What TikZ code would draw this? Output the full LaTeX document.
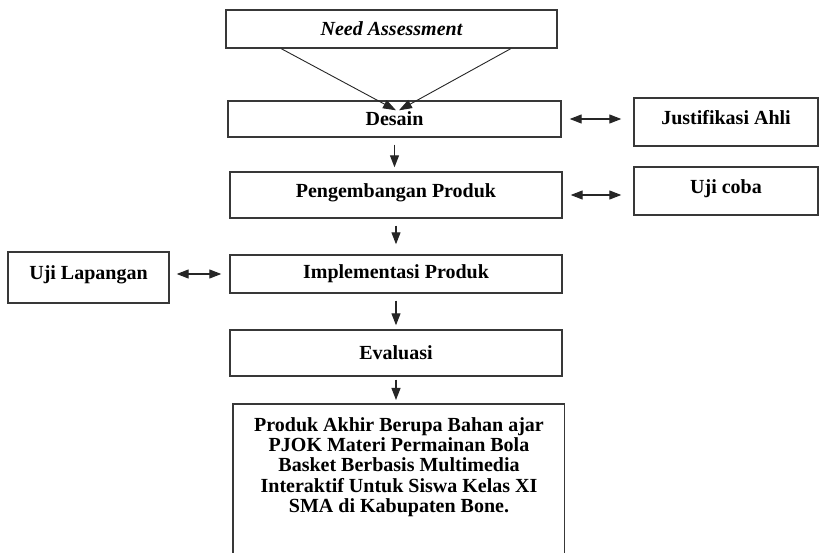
\documentclass[tikz,border=0pt]{standalone}
\usepackage{fontspec}
\setmainfont{Liberation Serif}
\usetikzlibrary{arrows.meta,calc}
\begin{document}
\begin{tikzpicture}[x=1pt,y=-1pt,
  box/.style={draw=black!78,line width=1.4pt,rectangle,inner sep=0pt,
    font=\fontsize{20}{20.5}\selectfont\bfseries},
  arr/.style={line width=1.2pt,draw=black!85,-{Triangle[width=9pt,length=12pt]}},
  darr/.style={line width=1.2pt,draw=black!85,{Triangle[width=9pt,length=12pt]}-{Triangle[width=9pt,length=12pt]}},
  sarr/.style={line width=0.9pt,draw=black!85,-{Triangle[width=9pt,length=13pt]}}]
\useasboundingbox (0,0) rectangle (820,553);
\fill[white] (0,0) rectangle (820,553);

\node[box,minimum width=331,minimum height=38] (need) at (391.5,29) {\itshape Need Assessment};
\node[box,minimum width=333,minimum height=36] (desain) at (394.5,119) {Desain};
\node[box,minimum width=332,minimum height=46,text depth=9pt] (peng) at (396,195) {Pengembangan Produk};
\node[box,minimum width=332,minimum height=38] (impl) at (396,274) {Implementasi Produk};
\node[box,minimum width=332,minimum height=46] (eval) at (396,353) {Evaluasi};
\node[box,minimum width=184,minimum height=48,text depth=9pt] (just) at (726,122) {Justifikasi Ahli};
\node[box,minimum width=184,minimum height=48,text depth=9pt] (uji) at (726,191) {Uji coba};
\node[box,minimum width=161,minimum height=51,text depth=10pt] (lap) at (88.5,277.5) {Uji Lapangan};

% final box (open at the bottom)
\node[rectangle,draw=none,inner sep=0pt,minimum width=331,minimum height=160,anchor=north] (akhir) at (398.5,404) {};
\draw[black!78,line width=1.4pt] (akhir.south west) -- (akhir.north west) -- (akhir.north east) -- (akhir.south east);
\node[align=center,inner sep=0pt,font=\fontsize{20}{20.4}\selectfont\bfseries] (akhirtxt) at (399,467)
 {Produk Akhir Berupa Bahan ajar\\PJOK Materi Permainan Bola\\Basket Berbasis Multimedia\\Interaktif Untuk Siswa Kelas XI\\SMA di Kabupaten Bone.};

% converging arrows from Need Assessment
\coordinate (tipL) at ([xshift=1.5pt,yshift=-10pt]desain.north);
\coordinate (tipR) at ([xshift=4.5pt,yshift=-10pt]desain.north);
\draw[sarr] ([xshift=56pt]need.south west) -- (tipL);
\draw[sarr] ([xshift=-47pt]need.south east) -- (tipR);

% vertical arrows
\draw[arr,shorten <=7pt,shorten >=4pt] (desain.south) -- (desain.south |- peng.north);
\draw[arr,shorten <=7pt,shorten >=10pt] (peng.south) -- (impl.north);
\draw[arr,shorten <=7pt,shorten >=4pt] (impl.south) -- (eval.north);
\draw[arr,shorten <=3pt,shorten >=4pt] (eval.south) -- (eval.south |- akhir.north);

% horizontal double arrows
\draw[darr,shorten <=8pt,shorten >=12pt] (desain.east) -- (just.west |- desain.east);
\draw[darr,shorten <=8pt,shorten >=12pt] (peng.east) -- (uji.west |- peng.east);
\draw[darr,shorten <=7pt,shorten >=8pt] (lap.east |- impl.west) -- (impl.west);
\end{tikzpicture}
\end{document}
